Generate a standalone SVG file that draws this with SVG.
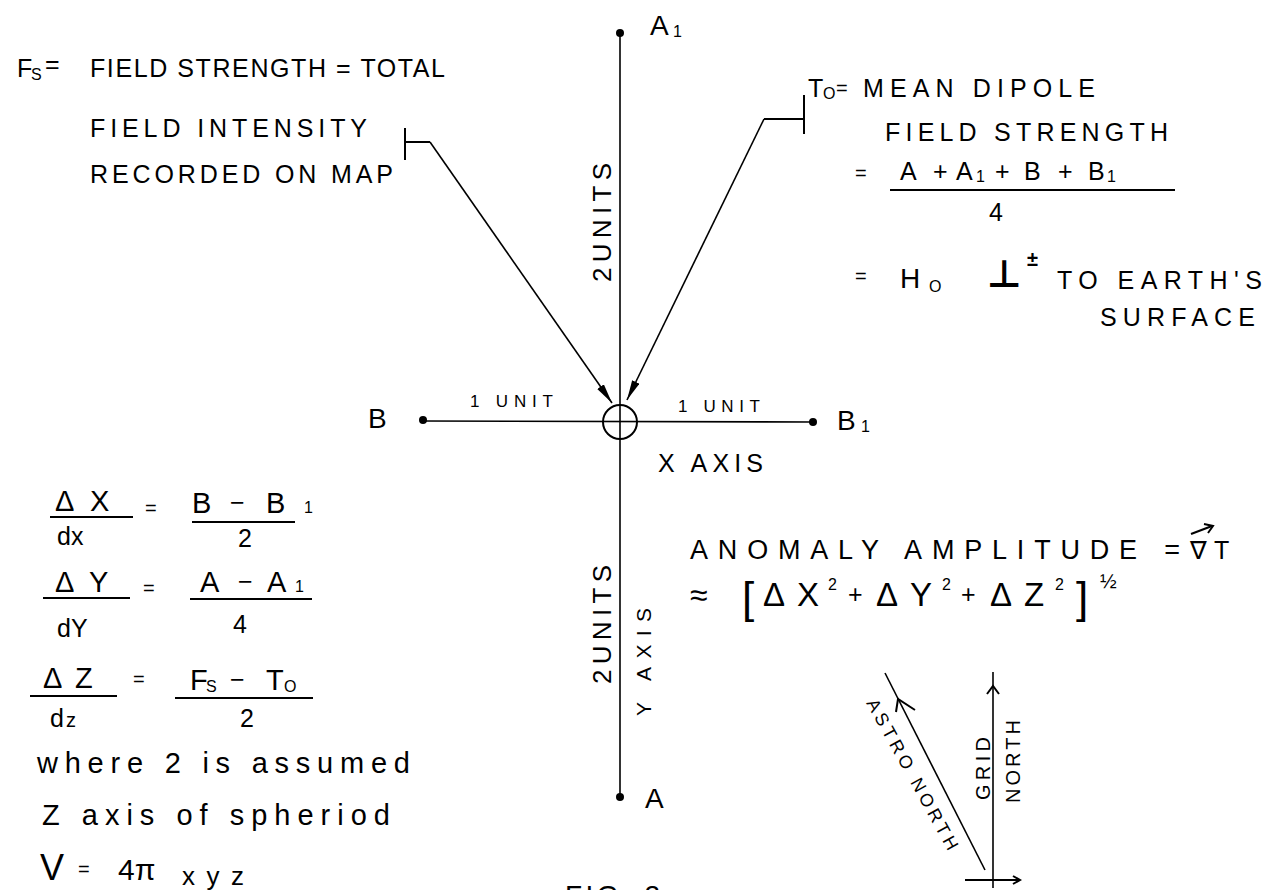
<svg xmlns="http://www.w3.org/2000/svg" width="1279" height="890" viewBox="0 0 1279 890">
<defs>
<style>
text{font-family:"Liberation Sans","DejaVu Sans",sans-serif;fill:#000}
.t{font-size:25px}
.b{font-size:29px}
.d{font-size:33px}
.s{font-size:16px}
.m{font-size:20px}
.ln{stroke:#000;stroke-width:2;fill:none}
.ax{stroke:#000;stroke-width:1.6;fill:none}
</style>
<marker id="ah" markerUnits="userSpaceOnUse" markerWidth="22" markerHeight="10" refX="20" refY="4" orient="auto">
<path d="M0,0 L20,4 L0,8 z" fill="#000"/>
</marker>
</defs>
<rect width="1279" height="890" fill="#fff"/>

<g id="axes">
<line class="ax" x1="620" y1="33" x2="620" y2="797"/>
<line class="ax" x1="423" y1="421" x2="813" y2="422"/>
<circle cx="620" cy="422" r="17" class="ln"/>
</g>

<g id="node-A1"><circle cx="620" cy="33" r="4"/><text x="650" y="35" style="font-size:28px">A</text><text x="673" y="37" class="s">1</text></g>
<g id="node-A"><circle cx="620" cy="797" r="4"/><text x="645" y="808" style="font-size:28px">A</text></g>
<g id="node-B"><circle cx="423" cy="420" r="4"/><text x="368" y="428" style="font-size:28px">B</text></g>
<g id="node-B1"><circle cx="813" cy="422" r="4"/><text x="837" y="430" style="font-size:28px">B</text><text x="861" y="432" class="s">1</text></g>

<g id="axis-labels">
<text x="470" y="407" style="font-size:17px" textLength="83" lengthAdjust="spacing">1 UNIT</text>
<text x="678" y="412" style="font-size:17px" textLength="82" lengthAdjust="spacing">1 UNIT</text>
<text x="658" y="472" style="font-size:25px" textLength="105" lengthAdjust="spacing">X AXIS</text>
<text transform="translate(611,282) rotate(-90)" style="font-size:26px" textLength="119" lengthAdjust="spacing">2UNITS</text>
<text transform="translate(611,684) rotate(-90)" style="font-size:26px" textLength="119" lengthAdjust="spacing">2UNITS</text>
<text transform="translate(651,716) rotate(-90)" style="font-size:21px" textLength="108" lengthAdjust="spacing">Y AXIS</text>
</g>

<g id="connectors">
<polyline class="ln" points="405,128 405,160"/>
<polyline class="ln" points="405,142 430,142"/>
<line class="ax" x1="430" y1="142" x2="612" y2="403" marker-end="url(#ah)"/>
<polyline class="ln" points="804,95 804,134"/>
<polyline class="ln" points="804,119 764,119"/>
<line class="ax" x1="764" y1="119" x2="627" y2="400" marker-end="url(#ah)"/>
</g>

<g id="note-Fs">
<text x="17" y="77" class="t">F</text><text x="31" y="80" class="s">S</text>
<text x="45" y="73" class="t">=</text>
<text x="90" y="77" class="t" textLength="355" lengthAdjust="spacing">FIELD STRENGTH = TOTAL</text>
<text x="90" y="137" class="t" textLength="277" lengthAdjust="spacing">FIELD INTENSITY</text>
<text x="90" y="183" class="t" textLength="303" lengthAdjust="spacing">RECORDED ON MAP</text>
</g>

<g id="note-To">
<text x="808" y="97" class="t">T</text><text x="823" y="99" class="s">O</text>
<text x="836" y="95" class="m">=</text>
<text x="863" y="97" class="t" textLength="232" lengthAdjust="spacing">MEAN DIPOLE</text>
<text x="885" y="141" class="t" textLength="283" lengthAdjust="spacing">FIELD STRENGTH</text>
<text x="855" y="180" class="m">=</text>
<text x="900" y="180" class="t">A</text>
<text x="933" y="180" class="t">+</text>
<text x="956" y="180" class="t">A</text><text x="976" y="182" class="s">1</text>
<text x="995" y="180" class="t">+</text>
<text x="1024" y="180" class="t">B</text>
<text x="1058" y="180" class="t">+</text>
<text x="1088" y="180" class="t">B</text><text x="1107" y="182" class="s">1</text>
<line class="ln" x1="890" y1="190" x2="1175" y2="190"/>
<text x="989" y="221" class="t">4</text>
<text x="855" y="283" class="m">=</text>
<text x="900" y="288" style="font-size:28px">H</text><text x="929" y="292" class="s">O</text>
<text x="987" y="287" style="font-size:38px;font-weight:bold">⊥</text>
<text x="1027" y="266" style="font-size:20px;font-weight:bold">±</text>
<text x="1057" y="289" class="t" textLength="205" lengthAdjust="spacing">TO EARTH'S</text>
<text x="1100" y="326" class="t" textLength="155" lengthAdjust="spacing">SURFACE</text>
</g>

<g id="formulas-left">
<text x="55" y="511" class="b">Δ</text><text x="90" y="511" class="b">X</text>
<line class="ln" x1="50" y1="517" x2="133" y2="517"/>
<text x="57" y="545" class="t">dx</text>
<text x="145" y="515" class="m">=</text>
<text x="192" y="513" class="b">B</text><text x="230" y="511" class="t">−</text><text x="266" y="513" class="b">B</text>
<text x="304" y="513" class="s">1</text>
<line class="ln" x1="192" y1="522" x2="295" y2="522"/>
<text x="238" y="547" class="t">2</text>

<text x="55" y="592" class="b">Δ</text><text x="89" y="592" class="b">Y</text>
<line class="ln" x1="43" y1="598" x2="130" y2="598"/>
<text x="57" y="637" class="t">dY</text>
<text x="143" y="595" class="m">=</text>
<text x="200" y="592" class="b">A</text><text x="238" y="590" class="t">−</text><text x="267" y="592" class="b">A</text>
<text x="295" y="592" class="s">1</text>
<line class="ln" x1="190" y1="599" x2="312" y2="599"/>
<text x="233" y="633" class="t">4</text>

<text x="43" y="688" class="b">Δ</text><text x="75" y="688" class="b">Z</text>
<line class="ln" x1="30" y1="696" x2="117" y2="696"/>
<text x="50" y="727" class="t">d</text><text x="66" y="727" class="m">z</text>
<text x="133" y="686" class="m">=</text>
<text x="190" y="690" class="b">F</text><text x="206" y="692" class="s">S</text>
<text x="230" y="688" class="t">−</text>
<text x="266" y="690" class="b">T</text><text x="284" y="692" class="s">O</text>
<line class="ln" x1="175" y1="698" x2="313" y2="698"/>
<text x="240" y="727" class="t">2</text>

<text x="37" y="773" class="b" textLength="373" lengthAdjust="spacing">where 2 is assumed</text>
<text x="42" y="825" class="b" textLength="348" lengthAdjust="spacing">Z axis of spheriod</text>
<text x="40" y="880" style="font-size:36px">V</text>
<text x="78" y="876" class="m">=</text>
<text x="118" y="880" style="font-size:30px">4π</text>
<text x="182" y="885" style="font-size:26px" textLength="62" lengthAdjust="spacing">xyz</text>
</g>

<g id="formula-anomaly">
<text x="690" y="559" style="font-size:27px" textLength="490" lengthAdjust="spacing">ANOMALY AMPLITUDE =</text>
<text x="1190" y="559" class="t">∇</text><text x="1214" y="559" class="t">T</text>
<line class="ln" x1="1191" y1="534" x2="1212" y2="526"/>
<path d="M1204,524 L1213,526 L1208,533" class="ln"/>
<text x="690" y="606" style="font-size:32px">≈</text>
<text x="742" y="613" style="font-size:44px">[</text>
<text x="763" y="606" class="d">Δ</text><text x="797" y="606" class="d">X</text><text x="828" y="590" class="s">2</text>
<text x="848" y="603" class="t">+</text>
<text x="876" y="606" class="d">Δ</text><text x="910" y="606" class="d">Y</text><text x="942" y="590" class="s">2</text>
<text x="961" y="603" class="t">+</text>
<text x="990" y="606" class="d">Δ</text><text x="1024" y="606" class="d">Z</text><text x="1055" y="590" class="s">2</text>
<text x="1076" y="613" style="font-size:44px">]</text>
<text x="1100" y="588" style="font-size:20px">½</text>
</g>

<g id="compass">
<line class="ax" x1="993" y1="672" x2="993" y2="888"/>
<path class="ln" d="M987,694 L993,686 L999,694"/>
<line class="ln" x1="965" y1="880" x2="1020" y2="880"/>
<path class="ln" d="M1013,876 L1020,880 L1013,884"/>
<line class="ax" x1="885" y1="673" x2="985" y2="870"/>
<path class="ln" d="M896,712 L898,699 L915,710"/>
<text transform="translate(866,703) rotate(61)" style="font-size:18px" textLength="170" lengthAdjust="spacing">ASTRO NORTH</text>
<text transform="translate(990,800) rotate(-90)" style="font-size:20px" textLength="63" lengthAdjust="spacing">GRID</text>
<text transform="translate(1020,803) rotate(-90)" style="font-size:20px" textLength="83" lengthAdjust="spacing">NORTH</text>
</g>

<g id="caption">
<text x="565" y="905" style="font-size:28px" textLength="95" lengthAdjust="spacing">FIG. 2</text>
</g>
</svg>
